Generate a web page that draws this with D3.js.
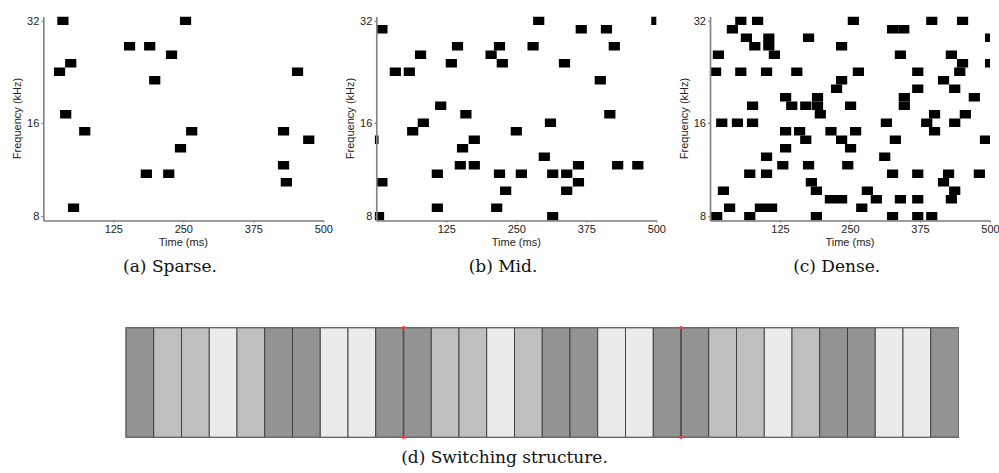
<!DOCTYPE html>
<html>
<head>
<meta charset="utf-8">
<script src="https://cdn.jsdelivr.net/npm/d3@7"></script>
<style>
  body { margin: 0; background: #fff; }
  svg { display: block; }
</style>
</head>
<body>
<svg id="chart" width="999" height="473"></svg>
<script>
// ---- data -------------------------------------------------------------
const timeTicks = [125, 250, 375, 500];          // ms
const freqTickLevels = [0, 11, 23];              // frequency level index
const freqTickLabels = ["8", "16", "32"];        // kHz
const toneDuration = 20;                         // ms per tone pip
const panelCaptions = ["(a) Sparse.", "(b) Mid.", "(c) Dense."];

// each tone: [onset in ms, frequency level 0..23]
const sparseTones = [
  [25, 23], [244, 23], [144, 20], [180, 20], [219, 19], [39, 18], [19, 17],
  [444, 17], [189, 16], [30, 12], [64, 10], [255, 10], [419, 10], [464, 9],
  [235, 8], [419, 6], [174, 5], [214, 5], [424, 4], [44, 1]
];

const midTones = [
  [280, 23], [491, 23], [0, 22], [356, 22], [401, 22], [135, 20], [210, 20],
  [270, 20], [415, 20], [69, 19], [195, 19], [124, 18], [215, 18], [326, 18],
  [24, 17], [49, 17], [390, 16], [105, 13], [150, 12], [407, 12], [74, 11],
  [301, 11], [55, 10], [240, 10], [-16, 9], [165, 9], [144, 8], [290, 7],
  [140, 6], [165, 6], [351, 6], [421, 6], [457, 6], [99, 5], [210, 5],
  [249, 5], [305, 5], [330, 5], [0, 4], [351, 4], [221, 3], [330, 3],
  [99, 1], [205, 1], [-6, 0], [305, 0]
];

const denseTones = [
  [45, 23], [75, 23], [246, 23], [386, 23], [441, 23],
  [30, 22], [316, 22], [336, 22],
  [55, 21], [95, 21], [166, 21], [491, 21],
  [70, 20], [95, 20], [225, 20],
  [5, 19], [105, 19], [330, 19], [421, 19],
  [441, 18], [491, 18],
  [0, 17], [45, 17], [91, 17], [145, 17], [255, 17], [361, 17], [436, 17],
  [225, 16], [407, 16],
  [216, 15], [361, 15], [427, 15],
  [125, 14], [182, 14], [337, 14], [462, 14],
  [66, 13], [136, 13], [161, 13], [182, 13], [241, 13], [337, 13],
  [187, 12], [391, 12], [446, 12],
  [11, 11], [39, 11], [66, 11], [305, 11], [377, 11], [427, 11],
  [125, 10], [150, 10], [206, 10], [250, 10], [391, 10],
  [161, 9], [225, 9], [321, 9], [482, 9],
  [125, 8], [241, 8],
  [91, 7], [302, 7],
  [120, 6], [166, 6], [236, 6],
  [61, 5], [91, 5], [316, 5], [361, 5], [416, 5], [471, 5],
  [171, 4], [407, 4],
  [14, 3], [180, 3], [271, 3], [427, 3],
  [205, 2], [225, 2], [287, 2], [330, 2], [361, 2], [421, 2],
  [25, 1], [80, 1], [100, 1], [261, 1],
  [2, 0], [61, 0], [180, 0], [316, 0], [361, 0], [386, 0]
];

// switching structure: shade class per block (0 light, 1 mid, 2 dark)
const switchShades = [
  2, 1, 1, 0, 1, 2, 2, 0, 0, 2,
  2, 1, 1, 0, 1, 2, 2, 0, 0, 2,
  2, 1, 1, 0, 1, 2, 2, 0, 0, 2
];
const switchPoints = [10, 20];                   // block index where a new segment starts
const switchCaption = "(d) Switching structure.";

// ---- drawing ----------------------------------------------------------
const svg = d3.select("#chart");
const sansFont = "'Liberation Sans', Arial, sans-serif";
const serifFont = "'DejaVu Serif', serif";

const x = d3.scaleLinear().domain([0, 500]).range([43.3, 323.3]);
const y = d3.scaleLinear().domain([-0.5, 23.5]).range([220.5, 16.5]);

const panelTones = [sparseTones, midTones, denseTones];
const panelOffsets = [0, 333, 666.7];

panelTones.forEach((tones, i) => {
  const g = svg.append("g").attr("transform", `translate(${panelOffsets[i]},0)`);

  g.append("clipPath").attr("id", "plot-clip-" + i)
    .append("rect")
    .attr("x", x(-2.5))
    .attr("y", y(23.5))
    .attr("width", x(500) - x(-2.5))
    .attr("height", y(-0.5) - y(23.5));

  g.append("g")
    .attr("clip-path", `url(#plot-clip-${i})`)
    .selectAll("rect")
    .data(tones)
    .join("rect")
    .attr("x", d => x(d[0]))
    .attr("width", d => x(d[0] + toneDuration) - x(d[0]))
    .attr("y", d => y(d[1] + 0.5))
    .attr("height", d => y(d[1] - 0.5) - y(d[1] + 0.5))
    .attr("fill", "#000");

  // time axis
  const xAxis = g.append("g")
    .attr("transform", `translate(0,${y(-0.5)})`)
    .call(d3.axisBottom(x).tickValues(timeTicks).tickSizeInner(2).tickSizeOuter(0).tickPadding(3));
  xAxis.select(".domain").attr("stroke", "#7a7a7a").attr("stroke-width", 1.4);
  xAxis.selectAll(".tick line").attr("stroke", "#7a7a7a");
  xAxis.selectAll("text").attr("font-family", sansFont).attr("font-size", 11).attr("fill", "#222");

  // frequency axis
  const yAxis = g.append("g")
    .attr("transform", `translate(${x(0)},0)`)
    .call(d3.axisLeft(y).tickValues(freqTickLevels)
      .tickFormat((d, k) => freqTickLabels[k])
      .tickSizeInner(2).tickSizeOuter(0).tickPadding(2));
  yAxis.select(".domain").attr("stroke", "#858585").attr("stroke-width", 1.7);
  yAxis.selectAll(".tick line").attr("stroke", "#7a7a7a");
  yAxis.selectAll("text").attr("font-family", sansFont).attr("font-size", 11).attr("fill", "#222");

  g.append("text")
    .attr("transform", `translate(17.5,${(y(-0.5) + y(23.5)) / 2}) rotate(-90)`)
    .attr("dy", "0.35em")
    .attr("text-anchor", "middle")
    .attr("font-family", sansFont).attr("font-size", 11).attr("fill", "#222")
    .text("Frequency (kHz)");

  g.append("text")
    .attr("x", (x(0) + x(500)) / 2)
    .attr("y", 246)
    .attr("text-anchor", "middle")
    .attr("font-family", sansFont).attr("font-size", 11).attr("fill", "#222")
    .text("Time (ms)");

  g.append("text")
    .attr("x", 170)
    .attr("y", 272)
    .attr("text-anchor", "middle")
    .attr("font-family", serifFont).attr("font-size", 17).attr("fill", "#111")
    .text(panelCaptions[i]);
});

// switching structure strip
const shadeColor = d3.scaleOrdinal().domain([0, 1, 2]).range(["#ebebeb", "#bfbfbf", "#939393"]);
const bx = d3.scaleBand().domain(d3.range(switchShades.length)).range([126, 958.5]).padding(0);
const stripTop = 327.7, stripBottom = 437.3;

const strip = svg.append("g");
strip.selectAll("rect")
  .data(switchShades)
  .join("rect")
  .attr("x", (d, k) => bx(k))
  .attr("y", stripTop)
  .attr("width", bx.bandwidth())
  .attr("height", stripBottom - stripTop)
  .attr("fill", d => shadeColor(d))
  .attr("stroke", "#3a3a3a")
  .attr("stroke-width", 0.9);

strip.append("rect")
  .attr("x", bx(0)).attr("y", stripTop)
  .attr("width", bx.bandwidth() * switchShades.length)
  .attr("height", stripBottom - stripTop)
  .attr("fill", "none")
  .attr("stroke", "#6a6a6a")
  .attr("stroke-width", 1);

const switches = strip.selectAll("g.switch")
  .data(switchPoints)
  .join("g")
  .attr("class", "switch");
switches.append("line")
  .attr("x1", d => bx(d)).attr("x2", d => bx(d))
  .attr("y1", stripTop).attr("y2", stripBottom)
  .attr("stroke", "#555").attr("stroke-width", 1.8);
switches.selectAll("circle")
  .data(d => [[d, stripTop], [d, stripBottom]])
  .join("circle")
  .attr("cx", d => bx(d[0]))
  .attr("cy", d => d[1])
  .attr("r", 1.8)
  .attr("fill", "#f23a3a");

svg.append("text")
  .attr("x", 504.5)
  .attr("y", 463)
  .attr("text-anchor", "middle")
  .attr("font-family", serifFont).attr("font-size", 17).attr("fill", "#111")
  .text(switchCaption);
</script>
</body>
</html>
